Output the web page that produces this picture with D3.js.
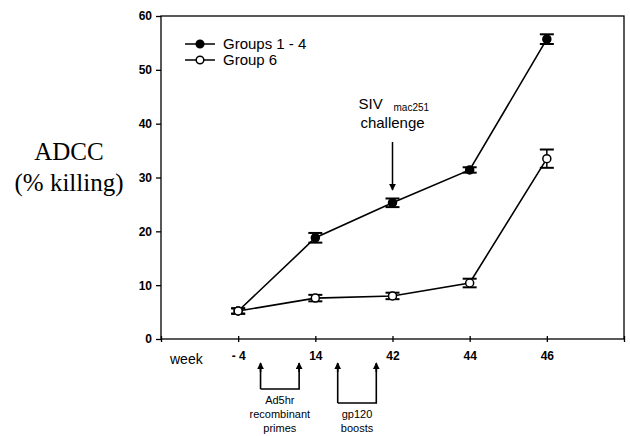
<!DOCTYPE html>
<html>
<head>
<meta charset="utf-8">
<script src="https://cdn.jsdelivr.net/npm/d3@7"></script>
<style>
body { margin:0; background:#fff; }
svg text { font-family: "Liberation Sans", Arial, sans-serif; fill:#000; }
</style>
</head>
<body>
<svg id="chart"></svg>
<script>
// data
var weeks = ["- 4", "14", "42", "44", "46"];
var groups14 = [5.2, 18.8, 25.3, 31.4, 55.7];
var groups14Err = [0.5, 0.9, 0.8, 0.5, 0.9];
var group6 = [5.2, 7.6, 8.0, 10.4, 33.5];
var group6Err = [0.5, 0.6, 0.6, 0.8, 1.7];
var yTicks = [0, 10, 20, 30, 40, 50, 60];

var screen = {width:630, height:436};
var margins = {top:16, left:161, right:6, bottom:97};
var graph = {
    width: screen.width - margins.left - margins.right,
    height: screen.height - margins.top - margins.bottom
};

var svg = d3.select("#chart")
    .attr("width", screen.width)
    .attr("height", screen.height);

// x is an index scale: 0 = left edge, 1..5 = weeks, 6 = right edge
var xScale = d3.scaleLinear()
    .domain([0, weeks.length + 1])
    .range([0, graph.width]);

var yScale = d3.scaleLinear()
    .domain([0, 60])
    .range([graph.height, 0]);

var g = svg.append("g")
    .attr("transform", "translate(" + margins.left + "," + margins.top + ")");

// frame
g.append("rect")
    .attr("x", 0).attr("y", 0)
    .attr("width", graph.width).attr("height", graph.height)
    .attr("fill", "none").attr("stroke", "#000").attr("stroke-width", 1.3);

// y axis
var yAxis = d3.axisLeft(yScale).tickValues(yTicks).tickSize(5).tickPadding(4);
var ya = g.append("g").call(yAxis);
ya.select(".domain").remove();
ya.selectAll("text").style("font-size", "12px").style("font-weight", "bold");
ya.selectAll("line").attr("stroke-width", 1.3);

// x axis
var xAxis = d3.axisBottom(xScale)
    .tickValues(d3.range(0, weeks.length + 2))
    .tickSize(5)
    .tickFormat(function(d) { return d >= 1 && d <= weeks.length ? weeks[d - 1] : ""; });
var xa = g.append("g")
    .attr("transform", "translate(0," + graph.height + ")")
    .call(xAxis);
xa.select(".domain").remove();
xa.selectAll("line").attr("y1", -3).attr("y2", 3).attr("stroke-width", 1.3);
xa.selectAll("text").attr("y", 12).style("font-size", "12px").style("font-weight", "bold");

g.append("text")
    .attr("x", 9).attr("y", graph.height + 25)
    .style("font-size", "14px")
    .text("week");

// y label
var ylab = svg.append("text")
    .attr("text-anchor", "middle")
    .style("font-family", "'Liberation Serif', 'Times New Roman', serif")
    .style("font-size", "25px");
ylab.append("tspan").attr("x", 69).attr("y", 160).text("ADCC");
ylab.append("tspan").attr("x", 69).attr("y", 191).text("(% killing)");

// series
var line = d3.line()
    .x(function(d, i) { return xScale(i + 1); })
    .y(function(d) { return yScale(d); });

function drawSeries(vals, errs, fill) {
    g.append("path")
        .datum(vals)
        .attr("d", line)
        .attr("fill", "none")
        .attr("stroke", "#000")
        .attr("stroke-width", 1.6);
    var eb = g.append("g").selectAll("g")
        .data(vals)
        .enter().append("g");
    eb.append("line")
        .attr("x1", function(d, i) { return xScale(i + 1); })
        .attr("x2", function(d, i) { return xScale(i + 1); })
        .attr("y1", function(d, i) { return yScale(d + errs[i]); })
        .attr("y2", function(d, i) { return yScale(d - errs[i]); })
        .attr("stroke", "#000").attr("stroke-width", 1.5);
    [1, -1].forEach(function(s) {
        eb.append("line")
            .attr("x1", function(d, i) { return xScale(i + 1) - 7; })
            .attr("x2", function(d, i) { return xScale(i + 1) + 7; })
            .attr("y1", function(d, i) { return yScale(d + s * errs[i]); })
            .attr("y2", function(d, i) { return yScale(d + s * errs[i]); })
            .attr("stroke", "#000").attr("stroke-width", 2);
    });
    eb.append("circle")
        .attr("cx", function(d, i) { return xScale(i + 1); })
        .attr("cy", function(d) { return yScale(d); })
        .attr("r", 4)
        .attr("fill", fill)
        .attr("stroke", "#000").attr("stroke-width", 1.5);
}
drawSeries(groups14, groups14Err, "#000");
drawSeries(group6, group6Err, "#fff");

// legend
var legend = [{name:"Groups 1 - 4", fill:"#000"}, {name:"Group 6", fill:"#fff"}];
var lg = svg.append("g").selectAll("g")
    .data(legend).enter().append("g")
    .attr("transform", function(d, i) { return "translate(185," + (44 + i * 16) + ")"; });
lg.append("line").attr("x1", 0).attr("x2", 30).attr("stroke", "#000").attr("stroke-width", 1.5);
lg.append("circle").attr("cx", 15).attr("r", 3.8)
    .attr("fill", function(d) { return d.fill; })
    .attr("stroke", "#000").attr("stroke-width", 1.5);
lg.append("text").attr("x", 38).attr("y", 5)
    .style("font-size", "15px")
    .text(function(d) { return d.name; });

// arrowhead
svg.append("defs").append("marker")
    .attr("id", "ah").attr("viewBox", "0 0 10 10")
    .attr("refX", 9).attr("refY", 5)
    .attr("markerWidth", 7).attr("markerHeight", 7)
    .attr("markerUnits", "userSpaceOnUse")
    .attr("orient", "auto")
    .append("path").attr("d", "M0,0 L10,5 L0,10 z").attr("fill", "#000");

// challenge annotation
var cx = margins.left + xScale(3);
svg.append("text").attr("x", cx - 34).attr("y", 109)
    .style("font-size", "15px").text("SIV");
svg.append("text").attr("x", cx + 1).attr("y", 111)
    .style("font-size", "10px").text("mac251");
svg.append("text").attr("x", cx).attr("y", 128).attr("text-anchor", "middle")
    .style("font-size", "15px").text("challenge");
svg.append("line")
    .attr("x1", cx).attr("x2", cx).attr("y1", 142).attr("y2", 190)
    .attr("stroke", "#000").attr("stroke-width", 1.5)
    .attr("marker-end", "url(#ah)");

// schedule brackets below axis
var brackets = [
    {from:1.29, to:1.79, bottom:389, label:["Ad5hr", "recombinant", "primes"], ly:404},
    {from:2.29, to:2.79, bottom:403, label:["gp120", "boosts"], ly:418}
];
brackets.forEach(function(b) {
    var x1 = margins.left + xScale(b.from), x2 = margins.left + xScale(b.to);
    svg.append("path")
        .attr("d", "M" + x1 + "," + b.bottom + " V364 M" + x1 + "," + b.bottom + " H" + x2 + " V364")
        .attr("fill", "none").attr("stroke", "#000").attr("stroke-width", 1.6);
    [x1, x2].forEach(function(x) {
        svg.append("line")
            .attr("x1", x).attr("x2", x).attr("y1", 372).attr("y2", 363)
            .attr("stroke", "#000").attr("stroke-width", 1.6)
            .attr("marker-end", "url(#ah)");
    });
    var t = svg.append("text").attr("text-anchor", "middle").style("font-size", "11px");
    b.label.forEach(function(s, i) {
        t.append("tspan").attr("x", (x1 + x2) / 2).attr("y", b.ly + i * 14).text(s);
    });
});
</script>
</body>
</html>
